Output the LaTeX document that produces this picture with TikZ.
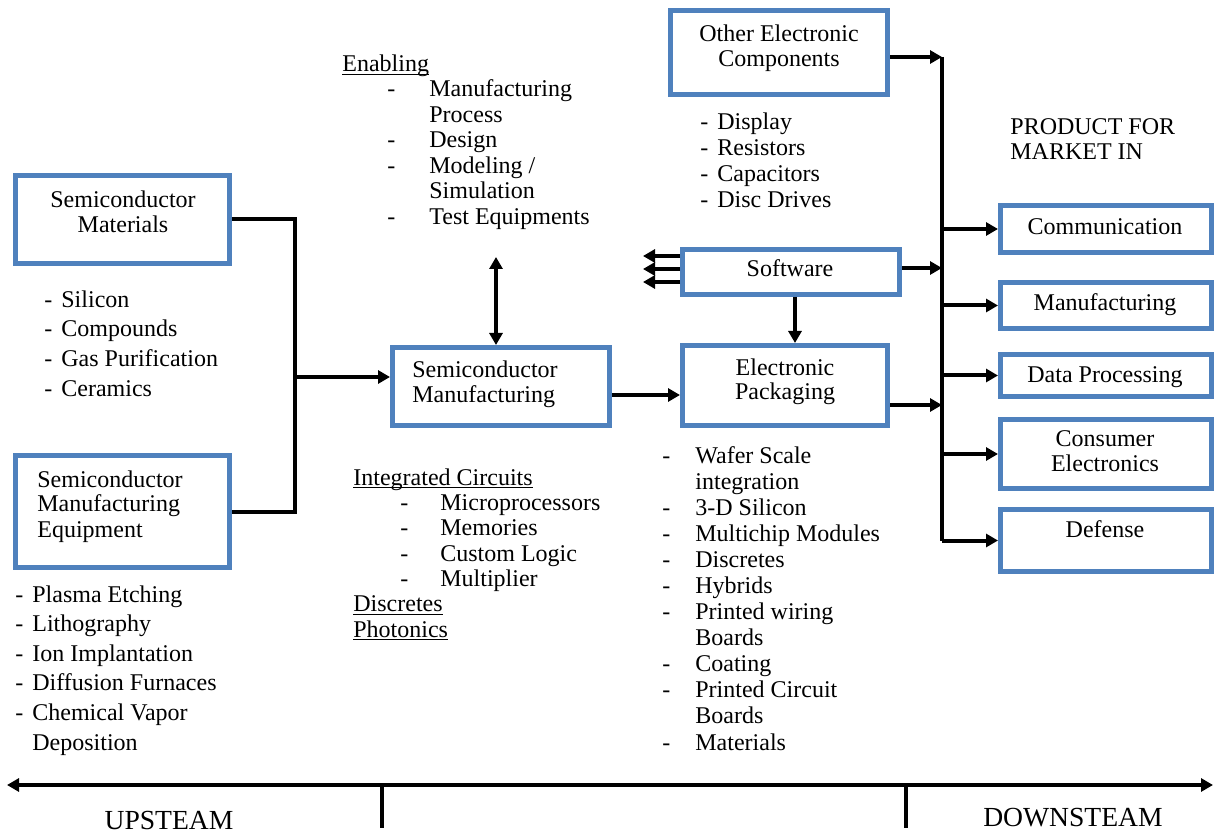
\documentclass[tikz,border=0pt]{standalone}
\usepackage{fontspec}
\setmainfont{Liberation Serif}
\usetikzlibrary{arrows.meta,calc}
\definecolor{boxblue}{RGB}{79,129,189}
\newcommand{\mlines}[2]{\begin{tabular}[t]{@{}#1@{}}#2\end{tabular}}
% underline drawn close to the baseline, crossing the descenders
\newcommand{\ulhead}[1]{\setbox0\hbox{#1}\rlap{\rule[-1.7pt]{\wd0}{0.6pt}}\box0}
\begin{document}
\begin{tikzpicture}[x=0.5pt,y=-0.5pt,
  box/.style={draw=boxblue,line width=2.5pt,inner sep=0pt},
  txt/.style={inner sep=0pt,anchor=base,font=\fontsize{12}{12.5}\selectfont},
  lst/.style={inner sep=0pt,anchor=base west,font=\fontsize{12}{#1}\selectfont},
  wire/.style={line width=2pt},
  arr/.style={line width=2pt,-{Triangle[length=6pt,width=6.5pt]}},
  darr/.style={line width=2pt,{Triangle[length=6pt,width=6.5pt]}-{Triangle[length=6pt,width=6.5pt]}},
  axislabel/.style={inner sep=0pt,anchor=base,font=\fontsize{13.8}{14}\selectfont}]

\useasboundingbox (0,0) rectangle (1216,834);

% ---------- upstream boxes ----------
\node[box,minimum width=107pt,minimum height=44pt] (smat) at (122.5,219.5) {};
\node[txt] (smat-t) at (123,208) {\mlines{c}{Semiconductor\\Materials}};

\node[box,minimum width=107pt,minimum height=56pt] (smeq) at (122.5,511.5) {};
\node[txt,anchor=base west] (smeq-t) at (37,487) {\mlines{l}{Semiconductor\\Manufacturing\\Equipment}};

\node[box,minimum width=108.5pt,minimum height=39pt] (smfg) at (501,386.5) {};
\node[txt,anchor=base west] (smfg-t) at (412,378) {\mlines{l}{Semiconductor\\Manufacturing}};

% ---------- packaging and components ----------
\node[box,minimum width=102.5pt,minimum height=40pt] (epkg) at (785,385.5) {};
\node[txt] (epkg-t) at (785,375) {\mlines{c}{Electronic\\Packaging}};

\node[box,minimum width=108.5pt,minimum height=22.5pt] (soft) at (791,272) {};
\node[txt] (soft-t) at (790,277) {Software};

\node[box,minimum width=108.5pt,minimum height=42pt] (oec) at (779,52.5) {};
\node[txt] (oec-t) at (779,42) {\mlines{c}{Other Electronic\\Components}};

% ---------- markets ----------
\node[txt,anchor=base west] (mkt-h) at (1010,135) {\mlines{l}{PRODUCT FOR\\MARKET IN}};

\node[box,minimum width=105.5pt,minimum height=23.5pt] (comm) at (1106,229) {};
\node[txt] (comm-t) at (1105,235) {Communication};
\node[box,minimum width=105.5pt,minimum height=23pt] (mfg) at (1106,305.5) {};
\node[txt] (mfg-t) at (1105,311) {Manufacturing};
\node[box,minimum width=105.5pt,minimum height=21pt] (dp) at (1106,375.5) {};
\node[txt] (dp-t) at (1105,382) {Data Processing};
\node[box,minimum width=105.5pt,minimum height=34.5pt] (ce) at (1106,454) {};
\node[txt] (ce-t) at (1105,446) {\mlines{c}{Consumer\\Electronics}};
\node[box,minimum width=105.5pt,minimum height=31pt] (def) at (1106,540.5) {};
\node[txt] (def-t) at (1105,537) {Defense};

% ---------- item lists ----------
\node[lst=14.85pt] (matl) at (44,307) {\begin{tabular}[t]{@{}p{8.5pt}@{}l@{}}
- & Silicon\\ - & Compounds\\ - & Gas Purification\\ - & Ceramics\end{tabular}};

\node[lst=14.8pt] (eqpl) at (15,602) {\begin{tabular}[t]{@{}p{8.5pt}@{}l@{}}
- & Plasma Etching\\ - & Lithography\\ - & Ion Implantation\\ - & Diffusion Furnaces\\
- & Chemical Vapor\\ & Deposition\end{tabular}};

\node[txt,anchor=base west] (enab-h) at (342,72) {\ulhead{Enabling}};
\node[lst=12.75pt] (enab) at (387,97) {\begin{tabular}[t]{@{}p{21pt}@{}l@{}}
- & Manufacturing\\ & Process\\ - & Design\\ - & Modeling /\\ & Simulation\\ - & Test Equipments\end{tabular}};

\node[lst=12.85pt] (oecl) at (700,130) {\begin{tabular}[t]{@{}p{8.5pt}@{}l@{}}
- & Display\\ - & Resistors\\ - & Capacitors\\ - & Disc Drives\end{tabular}};

\node[lst=12.67pt] (icl) at (353,485) {\begin{tabular}[t]{@{}p{23.5pt}@{}p{20pt}@{}l@{}}
\multicolumn{3}{@{}l@{}}{\ulhead{Integrated Circuits}}\\
 & - & Microprocessors\\ & - & Memories\\ & - & Custom Logic\\ & - & Multiplier\\
\multicolumn{3}{@{}l@{}}{\ulhead{Discretes}}\\
\multicolumn{3}{@{}l@{}}{\ulhead{Photonics}}\end{tabular}};

\node[lst=13.05pt] (epl) at (662,463) {\begin{tabular}[t]{@{}p{16.5pt}@{}l@{}}
- & Wafer Scale\\ & integration\\ - & 3-D Silicon\\ - & Multichip Modules\\ - & Discretes\\
- & Hybrids\\ - & Printed wiring\\ & Boards\\ - & Coating\\ - & Printed Circuit\\ & Boards\\
- & Materials\end{tabular}};

% ---------- connectors ----------
\coordinate (jl) at (295,377);
\draw[wire] (smat.east) -| (jl) |- (smeq.east);
\draw[arr] (jl) -- (jl -| smfg.west);

\coordinate (en) at (496,257);
\draw[darr] (en) -- (en |- smfg.north);

\path (smfg.east) ++(0,8.5) coordinate (p1);
\draw[arr] (p1) -- (p1 -| epkg.west);

\draw[arr] ([xshift=2pt]soft.south) -- ([xshift=2pt]soft.south |- epkg.north);

\coordinate (sw1) at (643,256);
\coordinate (sw2) at (643,269);
\coordinate (sw3) at (643,282);
\foreach \c in {sw1,sw2,sw3} \draw[arr] (soft.west |- \c) -- (\c);

\coordinate (bt) at (942,57);
\draw[wire] (bt) -- (bt |- def.west);
\draw[arr] (oec.east |- bt) -- (bt);
\coordinate (bs) at (942,268);
\draw[arr] (soft.east |- bs) -- (bs);
\coordinate (be) at (942,405);
\draw[arr] (epkg.east |- be) -- (be);
\foreach \m in {comm,mfg,dp,ce,def} \draw[arr] (bt |- \m.west) -- (\m.west);

% ---------- supply chain axis ----------
\coordinate (al) at (7,785);
\coordinate (ar) at (1213,785);
\draw[darr] (al) -- (ar);
\coordinate (t1) at (382,785);
\coordinate (t1b) at (382,828);
\coordinate (t2) at (906,785);
\coordinate (t2b) at (906,828);
\draw[wire] (t1) -- (t1b);
\draw[wire] (t2) -- (t2b);
\node[axislabel] (up) at (169,829) {UPSTEAM};
\node[axislabel] (down) at (1073,826) {DOWNSTEAM};
\end{tikzpicture}
\end{document}
